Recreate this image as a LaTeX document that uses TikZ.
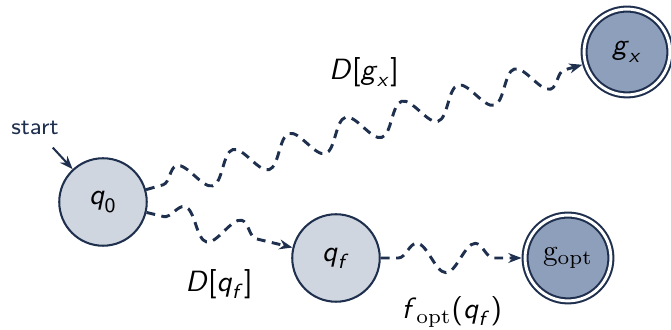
\documentclass[tikz,border=0pt]{standalone}
\usepackage{amsmath}
\usepackage{tikz}
\usetikzlibrary{arrows.meta, positioning, decorations.pathmorphing}
\definecolor{navyline}{HTML}{1F2F4E}
\definecolor{statefill}{HTML}{CFD6E0}
\definecolor{goalfill}{HTML}{8E9FBC}
\newcommand{\sv}[1]{\textsf{\textit{#1}}}

\begin{document}
\begin{tikzpicture}[
    statenode/.style={circle, draw=navyline, fill=statefill, minimum size=1.05cm, inner sep=0pt,
                      line width=0.7pt},
    goalnode/.style={circle, draw=navyline, fill=goalfill, double=white, double distance=1pt,
                     minimum size=1.03cm, inner sep=0pt, outer sep=1.2pt, line width=0.7pt},
    wavy/.style={-{Stealth[length=4.5pt]}, line width=1pt, navyline, dash pattern=on 3pt off 2.2pt,
                 decorate, decoration={snake, amplitude=5pt, segment length=20pt,
                 pre length=6pt, post length=6pt}},
    initarrow/.style={-{Stealth[length=4.5pt]}, line width=0.7pt, navyline, shorten <=1pt},
    lbl/.style={text=black}
]
    \useasboundingbox (0,0) rectangle (8.052,3.96);

    \node[statenode] (q0) at (1.236,1.536) {$\sv{q}_{\textsf{0}}$};
    \node[statenode] (qf) at (4.032,0.864) {$\sv{q}_{\sv{f}}$};
    \node[goalnode] (gopt) at (6.816,0.864) {$\mathrm{g}_{\mathrm{opt}}$};
    \node[goalnode] (gx) at (7.524,3.336) {$\sv{g}_{\sv{x}}$};
    \node[font=\footnotesize\sffamily, text=navyline] (start) at (0.42,2.42) {start};

    \node[lbl] (dgx) at (4.368,3.096) {$\sv{D}\textsf{[}\sv{g}_{\sv{x}}\textsf{]}$};
    \node[lbl] (dqf) at (2.628,0.552) {$\sv{D}\textsf{[}\sv{q}_{\sv{f}}\textsf{]}$};
    \node[lbl] (fopt) at (5.424,0.216) {$\sv{f}_{\mathrm{opt}}\textsf{(}\sv{q}_{\sv{f}}\textsf{)}$};

    \draw[initarrow] (start) -- (q0);
    \draw[wavy] (q0) -- (gx);
    \draw[wavy] (q0) -- (qf);
    \draw[wavy] (qf) -- (gopt);
\end{tikzpicture}
\end{document}
